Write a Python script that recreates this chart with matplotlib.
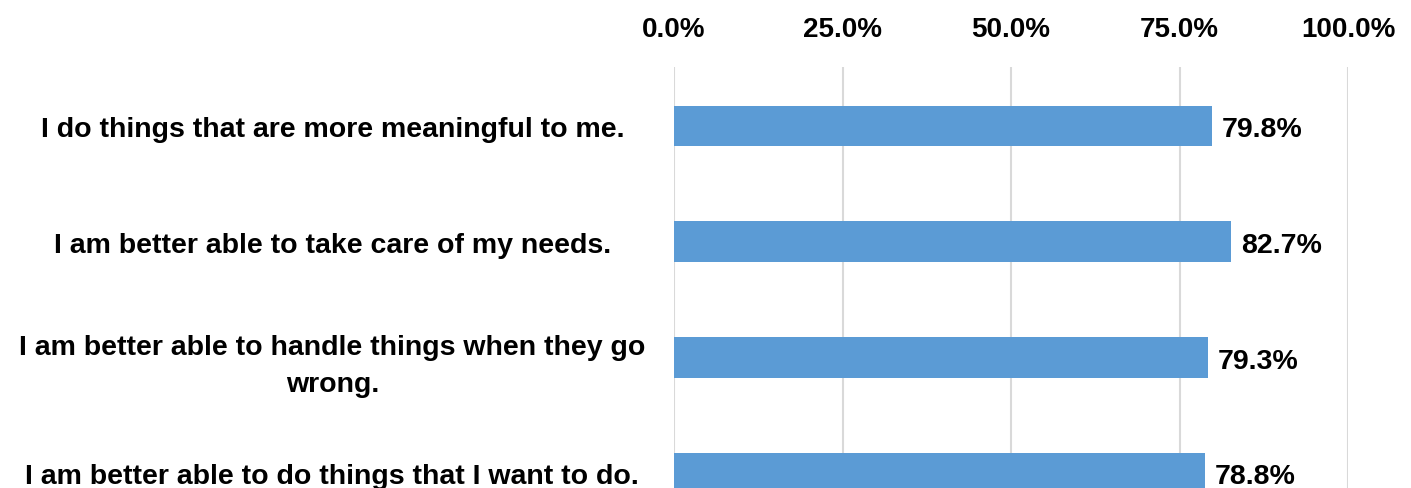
import matplotlib.pyplot as plt
from matplotlib.ticker import PercentFormatter

# Data
statements = [
    "I do things that are more meaningful to me.",
    "I am better able to take care of my needs.",
    "I am better able to handle things when they go\nwrong.",
    "I am better able to do things that I want to do.",
]
percents = [79.8, 82.7, 79.3, 78.8]
ticks = [0, 25, 50, 75, 100]

bar_color = "#5B9BD5"
grid_color = "#D9D9D9"

plt.rcParams["font.family"] = ["Liberation Sans", "DejaVu Sans"]

fig = plt.figure(figsize=(14.11, 4.89), dpi=100)
# axes runs past the bottom edge, like the cropped original
ax = fig.add_axes([674 / 1411, 0.0, (1348 - 674) / 1411, (489 - 68) / 489])

y = list(range(len(statements)))
ax.barh(y, percents, height=0.35, color=bar_color, zorder=3)

for yi, p in zip(y, percents):
    ax.text(p + 1.4, yi + 0.03, f"{p:.1f}%", va="center", ha="left",
            fontsize=20.5, fontweight="bold", color="black")

ax.set_xlim(0, 100)
ax.set_ylim(3.13, -0.51)
ax.set_xticks(ticks)
ax.xaxis.set_major_formatter(PercentFormatter(decimals=1))
ax.xaxis.tick_top()
ax.tick_params(axis="x", length=0, pad=18, labelsize=20)
for lab in ax.get_xticklabels():
    lab.set_fontweight("bold")

ax.set_yticks(y)
ax.set_yticklabels(statements, fontsize=20.5, fontweight="bold")
ax.tick_params(axis="y", length=0, pad=246)
for lab in ax.get_yticklabels():
    lab.set_horizontalalignment("center")
    lab.set_multialignment("center")
    lab.set_linespacing(1.55)

ax.grid(axis="x", color=grid_color, linewidth=1.5, zorder=0)
for s in ax.spines.values():
    s.set_visible(False)

fig.savefig("out.png", dpi=100)
